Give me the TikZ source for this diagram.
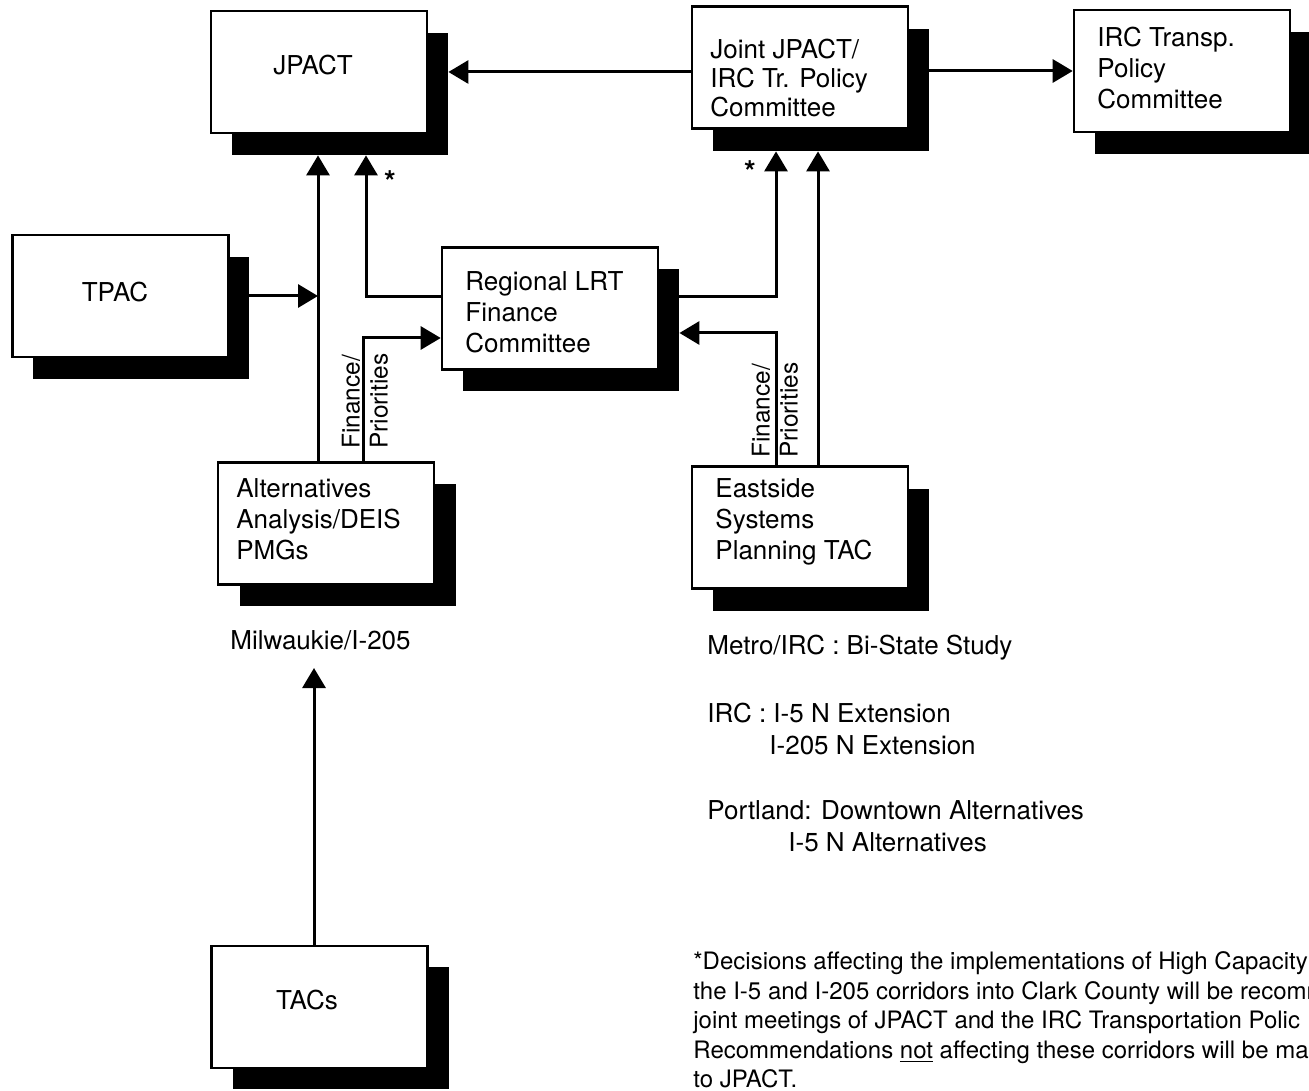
\documentclass[tikz,border=0pt]{standalone}
\usepackage{fontspec}
\setmainfont{TeX Gyre Heros}
\usetikzlibrary{arrows.meta}
\begin{document}
\begin{tikzpicture}[x=0.5pt,y=-0.5pt,
  shd/.style={fill=black, draw=none, minimum width=108pt, minimum height=61pt, inner sep=0pt},
  bx/.style={draw=black, fill=white, line width=1.3pt, minimum width=108pt, minimum height=61pt, inner sep=0pt},
  txt/.style={font=\fontsize{13}{15.5}\selectfont, align=left, inner sep=0pt, anchor=west},
  ctxt/.style={font=\fontsize{13}{15.5}\selectfont, inner sep=0pt},
  startxt/.style={font=\fontsize{15}{15}\selectfont\bfseries, inner sep=0pt},
  rottxt/.style={font=\fontsize{12.2}{14}\selectfont, align=left, inner sep=0pt, rotate=90, anchor=west},
  foot/.style={font=\fontsize{12}{14.75}\selectfont, align=left, inner sep=0pt, anchor=west},
  arr/.style={line width=1.5pt, -{Triangle[length=10pt,width=11.5pt]}}]
\useasboundingbox (0,0) rectangle (1309,1090);
\clip (0,0) rectangle (1309,1090);

% shadows
\node[shd] (jpact-s) at (340,94) {};
\node[shd] (joint-s) at (821,90) {};
\node[shd] (irc-s) at (1203,93) {};
\node[shd] (tpac-s) at (141,318) {};
\node[shd] (reg-s) at (571,330) {};
\node[shd] (alt-s) at (348,545) {};
\node[shd] (east-s) at (821,550) {};
\node[shd] (tacs-s) at (341,1028) {};

% boxes
\node[bx] (jpact) at (319,72) {};
\node[bx] (joint) at (800,67.5) {};
\node[bx] (irc) at (1182,71) {};
\node[bx] (tpac) at (120.5,296) {};
\node[bx] (reg) at (550,308.5) {};
\node[bx] (alt) at (326,523.5) {};
\node[bx] (east) at (800,527.5) {};
\node[bx] (tacs) at (319.5,1007) {};

% junction coordinates
\coordinate (cA) at (318,294);
\coordinate (cB) at (366,297);
\coordinate (cC) at (363,338);
\coordinate (cD) at (776,297);
\coordinate (cE) at (776,333);
\coordinate (cF) at (818,300);
\coordinate (cH) at (314,668);

% connectors
\draw[arr] (joint.west |- jpact.east) -- (jpact.east -| jpact-s.east);
\draw[arr] (irc.west -| joint-s.east) -- (irc.west);
\draw[arr] (tpac.east -| tpac-s.east) -- (tpac.east -| cA);
\draw[arr] (alt.north -| cA) -- (jpact-s.south -| cA);
\draw[arr] (reg.west |- cB) -- (cB) -- (jpact-s.south -| cB);
\draw[arr] (alt.north -| cC) -- (cC) -- (reg.west |- cC);
\draw[arr] (reg-s.east |- cD) -- (cD) -- (joint-s.south -| cD);
\draw[arr] (east.north -| cE) -- (cE) -- (reg-s.east |- cE);
\draw[arr] (east.north -| cF) -- (joint-s.south -| cF);
\draw[arr] (tacs.north -| cH) -- (cH);

% box texts
\node[ctxt] (jpact-t) at (313,65) {JPACT};
\node[ctxt] (tpac-t) at (115,292) {TPAC};
\node[ctxt] (tacs-t) at (307,1000) {TACs};
\node[txt,font=\fontsize{13}{14.5}\selectfont] (joint-t) at (710,78) {Joint JPACT/\\IRC Tr. Policy\\Committee};
\node[txt] (irc-t) at (1097,68) {IRC Transp.\\Policy\\Committee};
\node[txt] (reg-t) at (465,312) {Regional LRT\\Finance\\Committee};
\node[txt] (alt-t) at (236,519) {Alternatives\\Analysis/DEIS\\PMGs};
\node[txt] (east-t) at (715,522) {Eastside\\Systems\\Planning TAC};

% rotated labels
\node[rottxt] (alt-fp) at (365,449) {Finance/\\Priorities};
\node[rottxt] (east-fp) at (775,458) {Finance/\\Priorities};

% stars
\node[startxt] (star1) at (390,182) {*};
\node[startxt] (star2) at (750,172) {*};

% free texts
\node[txt] (mil) at (230,640) {Milwaukie/I-205};
\node[txt] (metro) at (707,648) {Metro/IRC : Bi-State Study};
\node[txt] (ircx) at (707,713) {IRC : I-5 N Extension};
\node[txt] (ircx2) at (769,745) {I-205 N Extension};
\node[txt] (port) at (707,810) {Portland: Downtown Alternatives};
\node[txt] (port2) at (788,842) {I-5 N Alternatives};

\node[foot] (note) at (693,1020) {*Decisions affecting the implementations of High Capacity\\the I-5 and I-205 corridors into Clark County will be recomm\\joint meetings of JPACT and the IRC Transportation Polic\\Recommendations \underline{not} affecting these corridors will be ma\\to JPACT.};
\end{tikzpicture}
\end{document}
